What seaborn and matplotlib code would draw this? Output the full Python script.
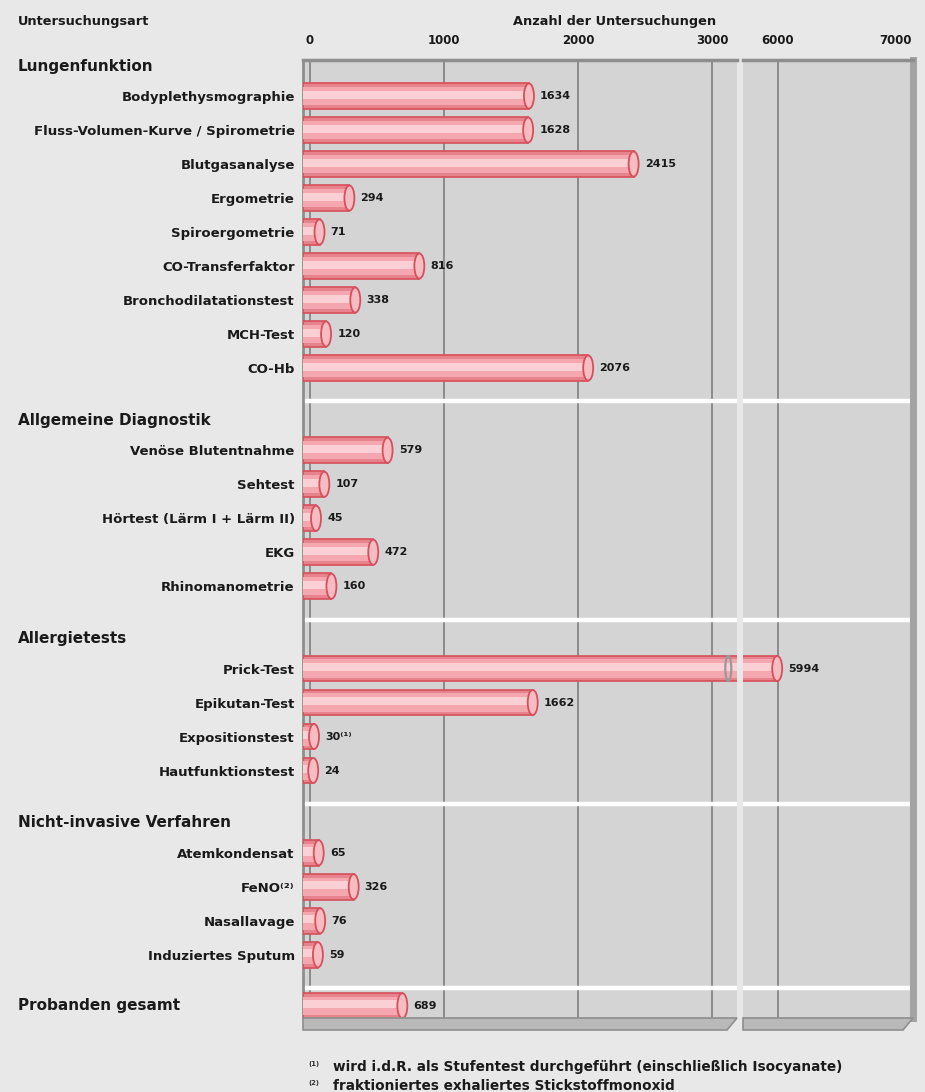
import numpy as np
import pandas as pd
import matplotlib
matplotlib.use("Agg")
import matplotlib.pyplot as plt
import seaborn as sns
from matplotlib.patches import Ellipse, Polygon
from matplotlib.transforms import blended_transform_factory

# ---------------- data ----------------
group_names = ["Lungenfunktion", "Allgemeine Diagnostik", "Allergietests",
               "Nicht-invasive Verfahren", "Probanden gesamt"]

lungen_labels = ["Bodyplethysmographie", "Fluss-Volumen-Kurve / Spirometrie",
                 "Blutgasanalyse", "Ergometrie", "Spiroergometrie",
                 "CO-Transferfaktor", "Bronchodilatationstest", "MCH-Test", "CO-Hb"]
lungen_values = [1634, 1628, 2415, 294, 71, 816, 338, 120, 2076]

allgemein_labels = ["Venöse Blutentnahme", "Sehtest", "Hörtest (Lärm I + Lärm II)",
                    "EKG", "Rhinomanometrie"]
allgemein_values = [579, 107, 45, 472, 160]

allergie_labels = ["Prick-Test", "Epikutan-Test", "Expositionstest", "Hautfunktionstest"]
allergie_values = [5994, 1662, 30, 24]
allergie_notes = ["", "", "⁽¹⁾", ""]

nicht_labels = ["Atemkondensat", "FeNO⁽²⁾", "Nasallavage", "Induziertes Sputum"]
nicht_values = [65, 326, 76, 59]

probanden_labels = [""]
probanden_values = [689]

left_ticks = [0, 1000, 2000, 3000]
right_ticks = [6000, 7000]

footnotes = ["wird i.d.R. als Stufentest durchgeführt (einschließlich Isocyanate)",
             "fraktioniertes exhaliertes Stickstoffmonoxid"]
footnote_marks = ["(1)", "(2)"]

# ---------------- layout helpers ----------------
group_labels = [lungen_labels, allgemein_labels, allergie_labels, nicht_labels, probanden_labels]
group_values = [lungen_values, allgemein_values, allergie_values, nicht_values, probanden_values]
group_notes = [[""] * 9, [""] * 5, allergie_notes, [""] * 4, [""]]

GROUP_GAP = 2.42
TOTAL_GAP = 1.5
rows = []
header_pos = []
sep_pos = []
pos = 0.0
for gi, (labs, vals, notes) in enumerate(zip(group_labels, group_values, group_notes)):
    if gi > 0:
        pos += TOTAL_GAP if gi == len(group_names) - 1 else GROUP_GAP
    if gi < len(group_names) - 1:
        header_pos.append(pos - 0.88)
    else:
        header_pos.append(pos)
    for j, (l, v, n) in enumerate(zip(labs, vals, notes)):
        rows.append(dict(label=l, value=v, note=n, pos=pos, group=group_names[gi]))
        if j < len(labs) - 1:
            pos += 1.0
    if gi < len(group_names) - 1:
        sep_pos.append(pos + 0.98)
df = pd.DataFrame(rows)

# ---------------- style ----------------
sns.set_theme(style="white")
FONT = ["Liberation Sans Narrow", "DejaVu Sans"]
plt.rcParams["font.family"] = FONT
plt.rcParams["font.weight"] = "bold"

BG = "#e8e8e8"
PANEL = "#d4d4d4"
GRID = "#8c8c8c"
BAR_OUT = "#e7838d"
BAR_EDGE = "#d64f5b"
BAR_MID = "#f4a7ae"
HILITE = "#fbd0d4"
CAP = "#f7bcc2"
TXT = "#1a1a1a"

W, H = 925, 1092
fig = plt.figure(figsize=(W / 100, H / 100), dpi=100, facecolor=BG)

def fx(px):
    return px / W

def fy(py):
    return 1 - py / H

ax_top, ax_bot = 60, 1018
L0, L1 = 303, 737
R0, R1 = 743, 913
px_per_unit = 0.134
zero_px = 310
left_lim = (-(zero_px - L0) / px_per_unit, (L1 - zero_px) / px_per_unit)
right_lim = (6000 - (778 - R0) / px_per_unit, 7000 + (R1 - 912) / px_per_unit)

axL = fig.add_axes([fx(L0), fy(ax_bot), fx(L1 - L0), (ax_bot - ax_top) / H], facecolor=PANEL)
axR = fig.add_axes([fx(R0), fy(ax_bot), fx(R1 - R0), (ax_bot - ax_top) / H], facecolor=PANEL, sharey=axL)

wall_x = left_lim[0] + 2

for ax, lim, ticks in [(axL, left_lim, left_ticks), (axR, right_lim, right_ticks)]:
    ax.set_xlim(*lim)
    # cylinder body: outer, mid tone and highlight
    sns.barplot(data=df, x="value", y="pos", orient="h", native_scale=True, width=0.76,
                color=BAR_OUT, edgecolor=BAR_EDGE, linewidth=1.2, saturation=1,
                errorbar=None, ax=ax, zorder=3)
    sns.barplot(x=df["value"], y=df["pos"], orient="h", native_scale=True, width=0.54,
                color=BAR_MID, linewidth=0, saturation=1, errorbar=None, ax=ax, zorder=4)
    sns.barplot(x=df["value"], y=df["pos"] - 0.04, orient="h", native_scale=True, width=0.24,
                color=HILITE, linewidth=0, saturation=1, errorbar=None, ax=ax, zorder=4)
    # bars start at the back wall of the 3D panel
    for p in ax.patches:
        w = p.get_width()
        p.set_x(wall_x)
        p.set_width(w - wall_x)
    # end caps
    for v, yp in zip(df["value"], df["pos"]):
        ax.add_patch(Ellipse((v, yp), width=10 / px_per_unit, height=0.74,
                             facecolor=CAP, edgecolor=BAR_EDGE, lw=1.3, zorder=5))
    ax.set_xlim(*lim)
    ax.set_xticks(ticks)
    ax.set_xticklabels([str(t) for t in ticks], fontsize=8.5, fontweight="bold", family=FONT)
    ax.xaxis.tick_top()
    ax.tick_params(axis="x", length=0, pad=9, colors=TXT)
    ax.grid(axis="x", color=GRID, lw=1.4, zorder=1)
    ax.grid(axis="y", visible=False)
    ax.set_axisbelow(True)
    for s in sep_pos:
        ax.axhline(s, color="white", lw=3.2, zorder=2)
    ax.set_xlabel("")
    ax.set_ylabel("")
    for sp in ax.spines.values():
        sp.set_visible(False)
    ax.spines["top"].set_visible(True)
    ax.spines["top"].set_color("#8e8e8e")
    ax.spines["top"].set_linewidth(2.5)

# last tick label on the right sits inside the panel edge
axR.get_xticklabels()[-1].set_horizontalalignment("right")

axL.spines["left"].set_visible(True)
axL.spines["left"].set_color("#8e8e8e")
axL.spines["left"].set_linewidth(2)
axR.spines["right"].set_visible(True)
axR.spines["right"].set_color("#a3a3a3")
axR.spines["right"].set_linewidth(5)

axL.set_ylim(27.12, -1.06)

# break mark in the long bar
long_row = df[df["value"] > left_lim[1]]
for v, yp in zip(long_row["value"], long_row["pos"]):
    axL.add_patch(Ellipse((left_lim[1] - 65, yp), width=6 / px_per_unit, height=0.74,
                          facecolor="none", edgecolor="#999999", lw=1.6, zorder=6))

# category labels
axL.set_yticks(df["pos"])
axL.set_yticklabels(df["label"], fontsize=9.5, fontweight="bold", family=FONT)
axL.tick_params(axis="y", length=0, pad=6, colors=TXT)
axR.tick_params(axis="y", left=False, labelleft=False)

# group headers
tr = blended_transform_factory(fig.transFigure, axL.transData)
for name, hp in zip(group_names, header_pos):
    axL.text(fx(18), hp, name, transform=tr, ha="left", va="center",
             fontsize=11, fontweight="bold", family=FONT, color=TXT)

# value labels
for v, yp, n in zip(df["value"], df["pos"], df["note"]):
    ax = axR if v > left_lim[1] else axL
    ax.annotate(f"{v}{n}", (v, yp), xytext=(8, 0), textcoords="offset points",
                ha="left", va="center", fontsize=8, fontweight="bold",
                family=FONT, color=TXT, zorder=7)

# titles
fig.text(fx(18), fy(22), "Untersuchungsart", ha="left", va="center",
         fontsize=9.3, fontweight="bold", family=FONT, color=TXT)
fig.text(fx(615), fy(22), "Anzahl der Untersuchungen", ha="center", va="center",
         fontsize=9.3, fontweight="bold", family=FONT, color=TXT)

# 3D floor of the panel
for a, b in [(L0, L1), (R0, R1)]:
    poly = Polygon([(fx(a), fy(ax_bot)), (fx(b), fy(ax_bot)), (fx(b - 10), fy(ax_bot + 12)),
                    (fx(a), fy(ax_bot + 12))], closed=True, transform=fig.transFigure,
                   facecolor="#b9b9b9", edgecolor="#8e8e8e", lw=1.2)
    fig.add_artist(poly)

# footnotes
for i, (m, t) in enumerate(zip(footnote_marks, footnotes)):
    yy = 1067 + i * 19
    fig.text(fx(308), fy(yy - 3), m, ha="left", va="center", fontsize=5,
             fontweight="bold", family=FONT, color="#333333")
    fig.text(fx(333), fy(yy), t, ha="left", va="center", fontsize=9.8,
             fontweight="bold", family=FONT, color=TXT)

fig.savefig("out.png", dpi=100, facecolor=BG)
